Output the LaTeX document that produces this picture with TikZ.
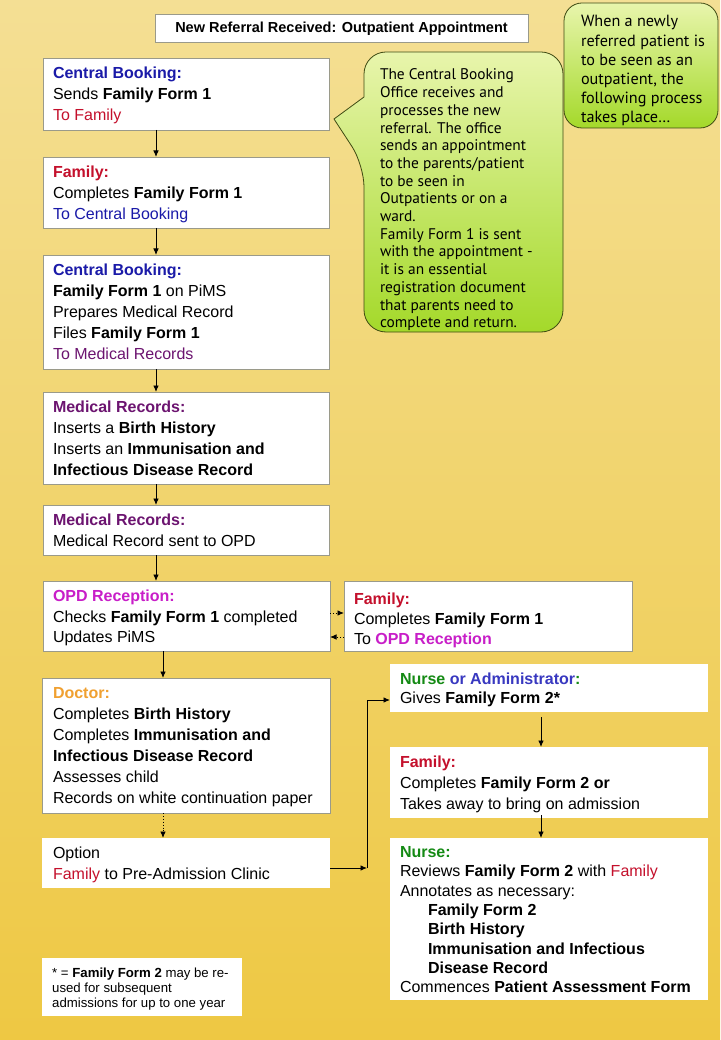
\documentclass[tikz,border=0pt]{standalone}
\usepackage{fontspec}
\setmainfont{Liberation Sans}
\newfontfamily\callfont{PT Sans}
\usetikzlibrary{arrows.meta}
\definecolor{bgtop}{HTML}{F4DF94}
\definecolor{bgbot}{HTML}{EEC843}
\definecolor{boxline}{HTML}{9A9A8A}
\definecolor{calltop}{HTML}{E8F5AC}
\definecolor{callbot}{HTML}{A4D92A}
\definecolor{callline}{HTML}{3E4A12}
\definecolor{cbblue}{HTML}{1A1AA8}
\definecolor{famred}{HTML}{C4102C}
\definecolor{mrpurple}{HTML}{6C1470}
\definecolor{opdmag}{HTML}{C81EC8}
\definecolor{docorange}{HTML}{F0A030}
\definecolor{nursegreen}{HTML}{148A14}
\definecolor{adminblue}{HTML}{3838C0}
\begin{document}
\begin{tikzpicture}[x=1pt,y=-1pt,
  box/.style={draw=boxline, line width=0.6pt, fill=white, anchor=north west, inner sep=0pt, outer sep=0pt},
  plainbox/.style={fill=white, anchor=north west, inner sep=0pt, outer sep=0pt},
  txt/.style={anchor=base west, inner sep=0pt, outer sep=0pt, font=\fontsize{16}{21}\selectfont},
  calltxt/.style={anchor=base west, inner sep=0pt, outer sep=0pt},
  arr/.style={-{Latex[length=6.5pt,width=5.5pt]}, line width=0.9pt},
  darr/.style={arr, dotted},
  callout/.style={draw=callline, line width=0.8pt, top color=calltop, bottom color=callbot}
]
\useasboundingbox (0,0) rectangle (720,1040);
\shade[top color=bgtop, bottom color=bgbot] (0,0) rectangle (720,1040);

% title
\node[box, minimum width=373pt, minimum height=28pt] (title) at (155,14) {};
\node[anchor=base, inner sep=0pt, font=\fontsize{14.5}{17}\selectfont\bfseries] (titlet) at ([yshift=-19pt]title.north) {New Referral Received: Outpatient Appointment};

% callouts
\path[callout] (364,97) [rounded corners=22pt] -- (364,52) -- (563,52) -- (563,332) -- (364,332) -- (364,165) [sharp corners] -- (334,119) -- cycle;
\node[calltxt] (c1t) at (380,80) {\parbox[t]{180pt}{\callfont\fontsize{15.4}{17.7}\selectfont
The Central Booking\\Office receives and\\processes the new\\referral. The office\\sends an appointment\\to the parents/patient\\to be seen in\\Outpatients or on a\\ward.\\Family Form 1 is sent\\with the appointment -\\it is an essential\\registration document\\that parents need to\\complete and return.}};

\path[callout, rounded corners=18pt] (564,3) rectangle (718,128);
\node[calltxt] (c2t) at (581,27) {\parbox[t]{135pt}{\callfont\fontsize{16.2}{19.1}\selectfont
When a newly\\referred patient is\\to be seen as an\\outpatient, the\\following process\\takes place\dots}};

% left column boxes
\node[box, minimum width=286pt, minimum height=72pt] (cb1) at (43,58) {};
\node[txt] (cb1t) at ([xshift=10pt,yshift=-21pt]cb1.north west) {\parbox[t]{270pt}{%
\textcolor{cbblue}{\textbf{Central Booking:}}\\
Sends \textbf{Family Form 1}\\
\textcolor{famred}{To Family}}};

\node[box, minimum width=286pt, minimum height=71pt] (fam1) at (43,157) {};
\node[txt] (fam1t) at ([xshift=10pt,yshift=-21pt]fam1.north west) {\parbox[t]{270pt}{%
\textcolor{famred}{\textbf{Family:}}\\
Completes \textbf{Family Form 1}\\
\textcolor{cbblue}{To Central Booking}}};

\node[box, minimum width=286pt, minimum height=114pt] (cb3) at (43,255) {};
\node[txt] (cb3t) at ([xshift=10pt,yshift=-21pt]cb3.north west) {\parbox[t]{270pt}{%
\textcolor{cbblue}{\textbf{Central Booking:}}\\
\textbf{Family Form 1} on PiMS\\
Prepares Medical Record\\
Files \textbf{Family Form 1}\\
\textcolor{mrpurple}{To Medical Records}}};

\node[box, minimum width=286pt, minimum height=92pt] (mr1) at (43,392) {};
\node[txt] (mr1t) at ([xshift=10pt,yshift=-20.5pt]mr1.north west) {\parbox[t]{270pt}{%
\textcolor{mrpurple}{\textbf{Medical Records:}}\\
Inserts a \textbf{Birth History}\\
Inserts an \textbf{Immunisation and}\\
\textbf{Infectious Disease Record}}};

\node[box, minimum width=286pt, minimum height=50pt] (mr2) at (43,505) {};
\node[txt] (mr2t) at ([xshift=10pt,yshift=-20.5pt]mr2.north west) {\parbox[t]{270pt}{%
\textcolor{mrpurple}{\textbf{Medical Records:}}\\
Medical Record sent to OPD}};

\node[box, minimum width=287pt, minimum height=70pt] (opd) at (43,581) {};
\node[txt] (opdt) at ([xshift=10pt,yshift=-20.5pt]opd.north west) {\parbox[t]{270pt}{\fontsize{16}{20.5}\selectfont
\textcolor{opdmag}{\textbf{OPD Reception:}}\\
Checks \textbf{Family Form 1} completed\\
Updates PiMS}};

\node[box, minimum width=288pt, minimum height=70pt] (famo) at (344,581) {};
\node[txt] (famot) at ([xshift=10pt,yshift=-23pt]famo.north west) {\parbox[t]{270pt}{\fontsize{16}{20}\selectfont
\textcolor{famred}{\textbf{Family:}}\\
Completes \textbf{Family Form 1}\\
To \textcolor{opdmag}{\textbf{OPD Reception}}}};

\node[box, minimum width=288pt, minimum height=135pt] (doc) at (42,678) {};
\node[txt] (doct) at ([xshift=11pt,yshift=-20.5pt]doc.north west) {\parbox[t]{272pt}{%
\textcolor{docorange}{\textbf{Doctor:}}\\
Completes \textbf{Birth History}\\
Completes \textbf{Immunisation and}\\
\textbf{Infectious Disease Record}\\
Assesses child\\
Records on white continuation paper}};

\node[plainbox, minimum width=288pt, minimum height=50pt] (opt) at (42,838) {};
\node[txt] (optt) at ([xshift=11pt,yshift=-20.5pt]opt.north west) {\parbox[t]{272pt}{%
Option\\
\textcolor{famred}{Family} to Pre-Admission Clinic}};

\node[plainbox, minimum width=200pt, minimum height=58pt] (foot) at (42,958) {};
\node[anchor=base west, inner sep=0pt] (foott) at ([xshift=10pt,yshift=-19.5pt]foot.north west) {\parbox[t]{185pt}{\fontsize{13.2}{15}\selectfont
* = \textbf{Family Form 2} may be re-\\
used for subsequent\\
admissions for up to one year}};

% right column boxes
\node[plainbox, minimum width=318pt, minimum height=48pt] (na) at (390,664) {};
\node[txt] (nat) at ([xshift=10pt,yshift=-20.5pt]na.north west) {\parbox[t]{300pt}{\fontsize{16}{19}\selectfont
\textcolor{nursegreen}{\textbf{Nurse }}\textcolor{adminblue}{\textbf{or Administrator}}\textcolor{nursegreen}{\textbf{:}}\\
Gives \textbf{Family Form 2*}}};

\node[plainbox, minimum width=318pt, minimum height=71pt] (fam2) at (390,747) {};
\node[txt] (fam2t) at ([xshift=10pt,yshift=-20.5pt]fam2.north west) {\parbox[t]{300pt}{%
\textcolor{famred}{\textbf{Family:}}\\
Completes \textbf{Family Form 2 or}\\
Takes away to bring on admission}};

\node[plainbox, minimum width=318pt, minimum height=162pt] (nurse) at (390,838) {};
\node[txt] (nurset) at ([xshift=10pt,yshift=-19.5pt]nurse.north west) {\parbox[t]{300pt}{\fontsize{16}{19.3}\selectfont
\textcolor{nursegreen}{\textbf{Nurse:}}\\
Reviews \textbf{Family Form 2} with \textcolor{famred}{Family}\\
Annotates as necessary:\\
\hspace*{28pt}\textbf{Family Form 2}\\
\hspace*{28pt}\textbf{Birth History}\\
\hspace*{28pt}\textbf{Immunisation and Infectious}\\
\hspace*{28pt}\textbf{Disease Record}\\
Commences \textbf{Patient Assessment Form}}};

% connectors
\coordinate (colA) at (156,0);
\coordinate (colB) at (163,0);
\coordinate (colR) at (541,0);
\coordinate (rowU) at (0,613);
\coordinate (rowL) at (0,637);
\coordinate (rowO) at (0,868);
\coordinate (rowN) at (0,700);
\coordinate (crn) at (367,868);

\draw[arr] (cb1.south -| colA) -- (fam1.north -| colA);
\draw[arr] (fam1.south -| colA) -- (cb3.north -| colA);
\draw[arr] (cb3.south -| colA) -- (mr1.north -| colA);
\draw[arr] (mr1.south -| colA) -- (mr2.north -| colA);
\draw[arr] (mr2.south -| colA) -- (opd.north -| colA);
\draw[arr] (opd.south -| colB) -- (doc.north -| colB);
\draw[darr] (doc.south -| colB) -- (opt.north -| colB);
\draw[darr] (opd.east |- rowU) -- (famo.west |- rowU);
\draw[darr] (famo.west |- rowL) -- (opd.east |- rowL);
\draw[arr] (opt.east |- rowO) -- (crn);
\draw[arr] (crn) |- (na.west |- rowN);
\draw[arr] ([yshift=-5pt]na.south -| colR) -- (fam2.north -| colR);
\draw[arr] ([yshift=3pt]fam2.south -| colR) -- (nurse.north -| colR);
\end{tikzpicture}
\end{document}
